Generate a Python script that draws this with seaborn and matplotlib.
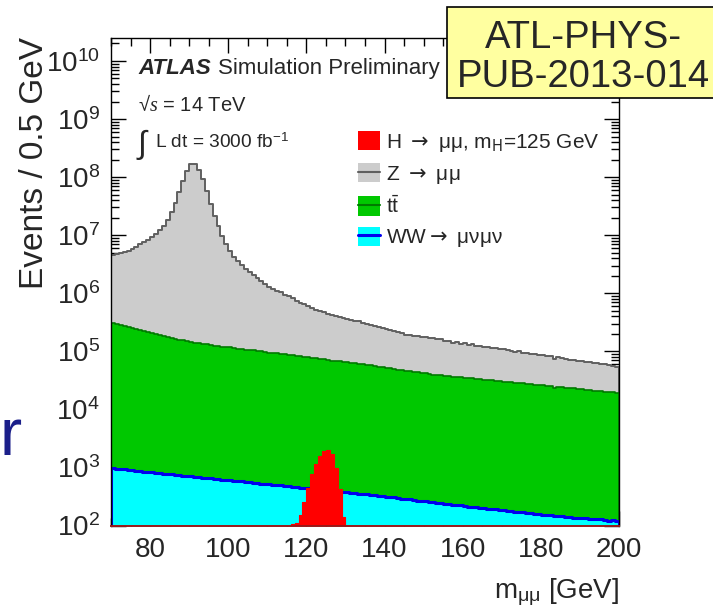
import numpy as np
import matplotlib
matplotlib.use("Agg")
import matplotlib.pyplot as plt
from matplotlib.patches import Patch, Rectangle
from matplotlib.lines import Line2D
from matplotlib.legend_handler import HandlerTuple
from matplotlib.ticker import MultipleLocator, LogLocator, LogFormatterMathtext, NullFormatter
import seaborn as sns

# ---------------------------------------------------------------------------
# Dimuon invariant mass spectrum, 1 GeV bins from 70 to 200 GeV
# ---------------------------------------------------------------------------
mass_edges = np.arange(70.0, 201.0, 1.0)
mass_centers = mass_edges[:-1] + 0.5

# Z -> mumu (Drell-Yan)
z_events = np.array([
    4.27e6, 4.44e6, 4.62e6, 4.86e6, 5.11e6, 5.57e6, 6.14e6, 6.77e6, 7.37e6, 8.20e6,
    9.03e6, 1.03e7, 1.20e7, 1.43e7, 1.82e7, 2.49e7, 3.61e7, 5.48e7, 8.50e7, 1.29e8,
    1.66e8, 1.70e8, 1.35e8, 9.22e7, 5.75e7, 3.47e7, 2.16e7, 1.40e7, 9.43e6, 6.80e6,
    5.13e6, 4.15e6, 3.44e6, 2.91e6, 2.52e6, 2.21e6, 1.96e6, 1.74e6, 1.52e6, 1.36e6,
    1.21e6, 1.11e6, 1.02e6, 9.50e5, 8.55e5, 7.95e5, 7.28e5, 6.67e5, 6.00e5, 5.66e5,
    5.18e5, 4.79e5, 4.50e5, 4.16e5, 3.95e5, 3.66e5, 3.48e5, 3.35e5, 3.22e5, 3.05e5,
    2.98e5, 2.88e5, 2.73e5, 2.68e5, 2.49e5, 2.37e5, 2.25e5, 2.20e5, 2.06e5, 1.98e5,
    1.93e5, 1.80e5, 1.76e5, 1.63e5, 1.58e5, 1.46e5, 1.48e5, 1.38e5, 1.42e5, 1.35e5,
    1.38e5, 1.31e5, 1.32e5, 1.22e5, 1.23e5, 1.12e5, 1.13e5, 1.05e5, 1.08e5, 9.90e4,
    1.02e5, 9.40e4, 9.70e4, 8.90e4, 9.20e4, 8.50e4, 8.80e4, 8.10e4, 8.30e4, 7.70e4,
    7.80e4, 7.40e4, 7.40e4, 7.00e4, 7.10e4, 6.50e4, 6.70e4, 6.40e4, 6.30e4, 6.00e4,
    6.00e4, 5.70e4, 5.80e4, 5.00e4, 5.40e4, 5.20e4, 5.10e4, 4.90e4, 4.80e4, 4.70e4,
    4.60e4, 4.40e4, 4.40e4, 4.15e4, 4.20e4, 3.90e4, 4.00e4, 3.85e4, 3.70e4, 3.40e4,
])

# ttbar
tt_events = np.array([
    304000, 293000, 281000, 271000, 259000, 248000, 239000, 229000, 221000, 211000,
    203000, 196000, 188000, 181000, 173000, 167000, 162000, 158000, 154000, 149000,
    146000, 141000, 138000, 134000, 131000, 128000, 125000, 122000, 120000, 117000,
    116000, 114000, 111000, 110000, 107000, 105000, 103000, 101000, 99000, 97500,
    95000, 93000, 92000, 89500, 88500, 86000, 85000, 83000, 81500, 79000,
    78000, 76500, 75000, 73500, 72000, 71000, 69000, 68000, 67000, 65000,
    64500, 63000, 62000, 60500, 59500, 58000, 57000, 55500, 54000, 53000,
    52000, 50500, 49500, 48000, 47500, 46500, 45000, 44500, 43000, 42500,
    41500, 41000, 39500, 39000, 38500, 38000, 37500, 36500, 36000, 35500,
    35000, 34500, 34000, 33500, 33000, 32500, 32000, 31500, 31000, 30500,
    30000, 29500, 29200, 28500, 28300, 27800, 27500, 27000, 26500, 26300,
    25700, 25500, 25000, 23500, 24300, 23800, 23500, 23000, 22800, 22300,
    22000, 21700, 21200, 21000, 20700, 20300, 20000, 19800, 19700, 19400,
])

# WW -> mu nu mu nu
ww_events = np.array([
    970, 955, 945, 925, 915, 890, 885, 860, 850, 835,
    825, 800, 805, 780, 770, 765, 745, 740, 720, 715,
    705, 690, 690, 670, 665, 660, 640, 635, 615, 620,
    605, 590, 590, 575, 565, 560, 545, 545, 530, 525,
    515, 510, 500, 495, 485, 480, 470, 465, 450, 445,
    440, 430, 425, 415, 410, 405, 400, 390, 385, 375,
    372, 370, 360, 352, 345, 345, 335, 330, 320, 322,
    315, 305, 305, 295, 292, 285, 282, 275, 270, 268,
    262, 255, 252, 245, 242, 238, 232, 230, 225, 222,
    218, 212, 212, 205, 202, 200, 195, 192, 190, 185,
    185, 180, 178, 172, 172, 170, 165, 163, 160, 158,
    155, 150, 152, 146, 148, 144, 140, 142, 136, 137,
    134, 133, 132, 130, 131, 128, 125, 122, 124, 121,
])

# H -> mumu signal, m_H = 125 GeV
higgs_edges = np.arange(116.0, 131.0, 1.0)
higgs_centers = higgs_edges[:-1] + 0.5
higgs_events = np.array([105, 112, 150, 250, 450, 760, 1150, 1580, 1930, 2040,
                         1700, 1000, 420, 140])

# Stacked totals (drawn from the top of the stack downwards)
stack_total = z_events + tt_events + ww_events
stack_tt = tt_events + ww_events
stack_ww = ww_events

# ---------------------------------------------------------------------------
sns.set_style("ticks")
plt.rcParams["font.family"] = ["Liberation Sans", "DejaVu Sans"]
plt.rcParams["mathtext.fontset"] = "custom"
plt.rcParams["mathtext.rm"] = "Liberation Sans"
plt.rcParams["mathtext.it"] = "Liberation Serif:italic"
plt.rcParams["mathtext.bf"] = "Liberation Sans:bold"

W, H = 713, 607
def fx(px):
    return px / W
def fy(py):
    return 1 - py / H

fig = plt.figure(figsize=(W / 100, H / 100), dpi=100)
ax = fig.add_axes([fx(111), fy(525.6), (619 - 111) / W, (525.6 - 37.7) / H])

layers = [
    (stack_total, "#cccccc", "#606060", 1.4),
    (stack_tt, "#00c800", "#007a00", 1.2),
    (stack_ww, "#00ffff", "#0000ee", 2.2),
]
for weights, face, edge, lw in layers:
    sns.histplot(x=mass_centers, weights=weights, bins=list(mass_edges), element="step",
                 fill=True, color=face, edgecolor=edge, linewidth=lw, alpha=1, ax=ax)

sns.histplot(x=higgs_centers, weights=higgs_events, bins=list(higgs_edges), element="step",
             fill=True, color="#ff0000", edgecolor="#ff0000", linewidth=0.8, alpha=1, ax=ax)

ax.set_yscale("log")
ax.set_xlim(70, 200)
ax.set_ylim(1e2, 10 ** 10.4)
ax.set_xlabel("")
ax.set_ylabel("")

ax.xaxis.set_major_locator(MultipleLocator(20))
ax.xaxis.set_minor_locator(MultipleLocator(5))
ax.yaxis.set_major_locator(LogLocator(base=10, numticks=20))
ax.yaxis.set_minor_locator(LogLocator(base=10, subs=np.arange(2, 10), numticks=200))
ax.yaxis.set_major_formatter(LogFormatterMathtext())
ax.yaxis.set_minor_formatter(NullFormatter())

ax.tick_params(which="both", direction="in", top=True, right=True, width=1.0, color="black")
ax.tick_params(which="major", length=11, labelsize=20, pad=8)
ax.tick_params(which="minor", length=5.5)
for side in ax.spines.values():
    side.set_linewidth(1.0)
    side.set_color("black")
ax.spines["bottom"].set_color("#991a1a")
ax.spines["bottom"].set_linewidth(1.4)

# Axis titles
fig.text(fx(35), fy(37), "Events / 0.5 GeV", rotation=90, fontsize=24,
         ha="center", va="top")
fig.text(fx(619), fy(598), r"m$_{\mathrm{\mu\mu}}$ [GeV]", fontsize=20,
         ha="right", va="baseline")

# Labels inside the frame
t_atlas = fig.text(fx(138), fy(74), "ATLAS", fontsize=16, fontweight="bold",
                   fontstyle="italic", va="baseline", ha="left")
ax.annotate("Simulation Preliminary", xy=(1, 0), xycoords=t_atlas, xytext=(5, 0),
            textcoords="offset points", fontsize=16, va="bottom", ha="left",
            annotation_clip=False)
fig.text(fx(138), fy(111), r"√$s$ = 14 TeV", fontsize=14.5, va="baseline", ha="left")
fig.text(fx(137), fy(153), "∫", fontsize=23, va="baseline", ha="left")
fig.text(fx(155), fy(148), r"L dt = 3000 fb$^{\mathrm{-1}}$", fontsize=13.8,
         va="baseline", ha="left")

# Legend
handles = [
    Patch(facecolor="#ff0000", edgecolor="none"),
    (Patch(facecolor="#cccccc", edgecolor="none"), Line2D([], [], color="#606060", lw=1.5)),
    (Patch(facecolor="#00c800", edgecolor="none"), Line2D([], [], color="#007a00", lw=1.5)),
    (Patch(facecolor="#00ffff", edgecolor="none"), Line2D([], [], color="#0000ee", lw=2.2)),
]
labels = [
    r"H ${\rightarrow}$ μμ, m$_{\mathrm{H}}$=125 GeV",
    r"Z ${\rightarrow}$ μμ",
    r"t$\bar{\mathrm{t}}$",
    r"WW${\rightarrow}$ μνμν",
]
leg = fig.legend(handles=handles, labels=labels, loc="upper left",
                 bbox_to_anchor=(fx(358), fy(131)), bbox_transform=fig.transFigure,
                 frameon=False, fontsize=15, handlelength=1.05, handleheight=1.05,
                 handletextpad=0.3, labelspacing=0.45, borderpad=0, borderaxespad=0,
                 handler_map={tuple: HandlerTuple(ndivide=1)})
# wider arrow glyphs for the process labels
for i in (0, 1, 3):
    leg.get_texts()[i].set_math_fontfamily("dejavusans")

# Document reference box
fig.add_artist(Rectangle((fx(447), fy(98)), (720 - 447) / W, (98 - 7) / H,
                         transform=fig.transFigure, facecolor="#ffffa0",
                         edgecolor="black", linewidth=1.2, zorder=5))
fig.text(fx(583), fy(48), "ATL-PHYS-", fontsize=27.5, ha="center", va="baseline", zorder=6)
fig.text(fx(583), fy(87), "PUB-2013-014", fontsize=27.5, ha="center", va="baseline", zorder=6)

# Fragment of slide text at the left edge
fig.text(fx(0), fy(455), "r", fontsize=48, color="#1b1f8a", ha="left", va="baseline")

fig.savefig("out.png", dpi=100)
